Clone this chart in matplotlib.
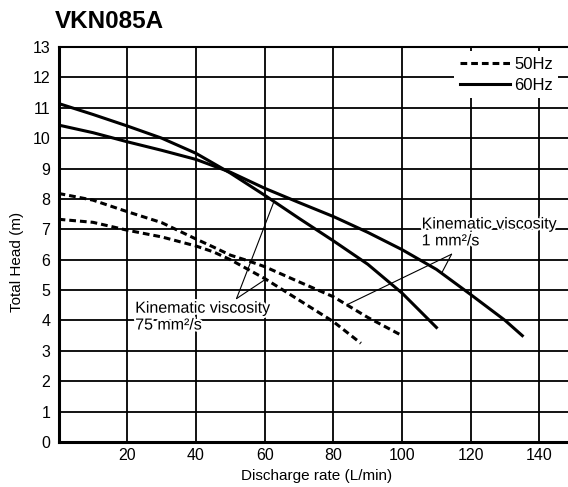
import numpy as np
import matplotlib
matplotlib.use('Agg')
import matplotlib.pyplot as plt
import matplotlib.patheffects as pe

plt.rcParams['font.family'] = ['Liberation Sans', 'DejaVu Sans']

# 50Hz curves
q50_1 = [0, 10, 20, 30, 40, 45, 50, 55, 60, 70, 80, 90, 100]
h50_1 = [8.18, 7.96, 7.58, 7.22, 6.68, 6.42, 6.15, 5.97, 5.77, 5.27, 4.78, 4.1, 3.5]
q50_75 = [0, 10, 20, 30, 40, 45, 50, 60, 70, 80, 88]
h50_75 = [7.33, 7.23, 6.97, 6.75, 6.45, 6.26, 6.0, 5.38, 4.67, 3.96, 3.25]
# 60Hz curves
q60_1 = [0, 10, 20, 30, 40, 50, 60, 70, 80, 90, 100, 110, 120, 130, 135]
h60_1 = [10.43, 10.18, 9.88, 9.6, 9.3, 8.88, 8.35, 7.88, 7.42, 6.9, 6.33, 5.68, 4.85, 4.0, 3.5]
q60_75 = [0, 10, 20, 30, 40, 50, 60, 70, 80, 90, 100, 110]
h60_75 = [11.14, 10.78, 10.4, 10.0, 9.5, 8.85, 8.12, 7.36, 6.62, 5.85, 4.9, 3.77]

xticks = [20, 40, 60, 80, 100, 120, 140]
yticks = list(range(0, 14))

fig = plt.figure(figsize=(5.68, 4.87), dpi=100)
ax = fig.add_axes([0.1032, 0.0924, 0.8968, 0.8111])

dash = (0, (2.2, 1.3))
ax.plot(q50_1, h50_1, color='black', lw=2.2, ls=dash, label='50Hz', zorder=3)
ax.plot(q50_75, h50_75, color='black', lw=2.2, ls=dash, zorder=3)
ax.plot(q60_1, h60_1, color='black', lw=2.2, label='60Hz', zorder=3)
ax.plot(q60_75, h60_75, color='black', lw=2.2, zorder=3)

ax.set_xlim(0, 148.3)
ax.set_ylim(0, 13)
ax.set_xticks(xticks)
ax.set_yticks(yticks)
ax.tick_params(length=0, labelsize=11.5)
ax.tick_params(axis='x', pad=4.5)
ax.tick_params(axis='y', pad=6)
ax.grid(True, color='black', lw=1.3)
ax.spines['right'].set_visible(False)
ax.spines['top'].set_linewidth(1.5)
ax.spines['left'].set_linewidth(2.2)
ax.spines['bottom'].set_linewidth(2.2)

leg = ax.legend(loc='upper left', bbox_to_anchor=(0.776, 0.99), fontsize=12,
                frameon=True, fancybox=False, edgecolor='none', facecolor='white',
                framealpha=1, handlelength=3.0, handletextpad=0.25,
                labelspacing=0.35, borderpad=0.35, borderaxespad=0)
leg.set_zorder(5)

halo = [pe.withStroke(linewidth=3, foreground='white')]

# leader lines for 75 mm2/s
apex75 = (51.8, 4.72)
for qs, hs, qx in [(q50_75, h50_75, 60.3), (q60_75, h60_75, 62.7)]:
    ax.annotate('', xy=(qx, np.interp(qx, qs, hs)), xytext=apex75,
                arrowprops=dict(arrowstyle='-', lw=0.8, color='black',
                                shrinkA=0, shrinkB=0), zorder=4)
ax.text(22.3, 4.65, 'Kinematic viscosity\n75 mm\u00b2/s', fontsize=11.5,
        ha='left', va='top', linespacing=1.15, path_effects=halo, zorder=4)

# leader lines for 1 mm2/s
apex1 = (114.4, 6.18)
for qs, hs, qx in [(q50_1, h50_1, 83.9), (q60_1, h60_1, 111.5)]:
    ax.annotate('', xy=(qx, np.interp(qx, qs, hs)), xytext=apex1,
                arrowprops=dict(arrowstyle='-', lw=0.8, color='black',
                                shrinkA=0, shrinkB=0), zorder=4)
ax.text(105.7, 7.42, 'Kinematic viscosity\n1 mm\u00b2/s', fontsize=11.5,
        ha='left', va='top', linespacing=1.15, path_effects=halo, zorder=4)

fig.text(55 / 568, 1 - 28 / 487, 'VKN085A', fontsize=17.5, fontweight='bold',
         ha='left', va='baseline')
fig.text(17 / 568, 1 - 262 / 487, 'Total Head (m)', fontsize=11, rotation=90,
         ha='center', va='center')
fig.text(317 / 568, 1 - 476 / 487, 'Discharge rate (L/min)', fontsize=11,
         ha='center', va='center')

fig.savefig('out.png', dpi=100)
